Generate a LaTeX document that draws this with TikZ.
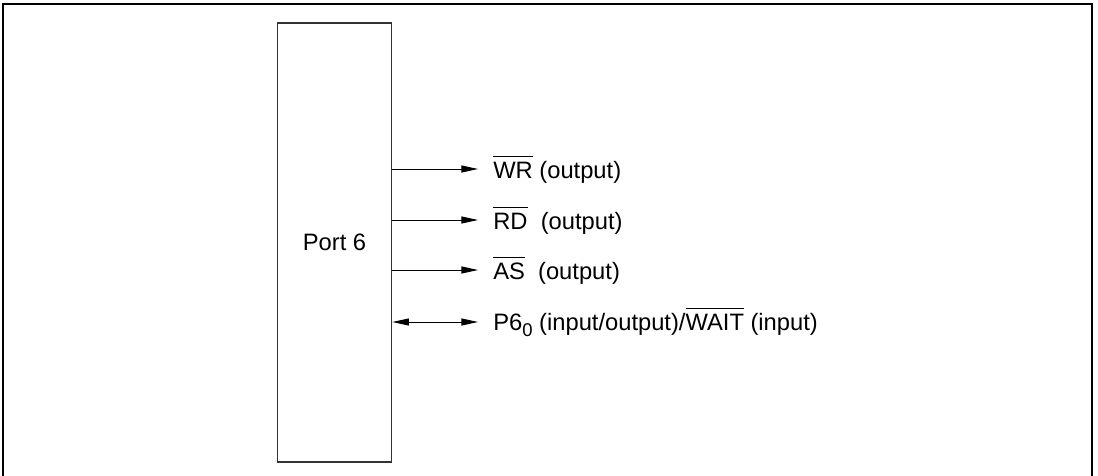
\documentclass[tikz,border=0pt]{standalone}
\usepackage{fontspec}
\setmainfont{Liberation Sans}
\usetikzlibrary{arrows.meta}
\newcommand{\ovl}[1]{$\overline{\mbox{\vphantom{\"A}#1}}$}
\newcommand{\sbs}[1]{\raisebox{-0.45ex}{\fontsize{10.5}{12}\selectfont #1}}
\tikzset{
    sig/.style={line width=0.55pt,-{Triangle[length=9.5pt,width=4pt]}},
    bisig/.style={line width=0.55pt,{Triangle[length=9.5pt,width=4pt]}-{Triangle[length=9.5pt,width=4pt]}},
    lbl/.style={anchor=west,inner sep=0pt,font=\fontsize{13.5}{16}\selectfont}
}
\begin{document}
\begin{tikzpicture}[x=0.02cm,y=0.02cm]
    \useasboundingbox (0,0) rectangle (1098,-476);
    \draw[line width=1.1pt] (3,-476) -- (3,-4) -- (1092,-4) -- (1092,-476);
    \node[draw=black!80,line width=0.9pt,minimum width=114*0.02cm,minimum height=439*0.02cm,
          font=\fontsize{13.5}{16}\selectfont] (port) at (334.5,-242.5) {Port 6};
    \node[lbl] (wr) at (493,-169) {\ovl{WR} (output)};
    \node[lbl] (rd) at (493,-220) {\ovl{RD}\ \ (output)};
    \node[lbl] (as) at (493,-270) {\ovl{AS}\ \ (output)};
    \node[lbl] (wait) at (493,-322) {P6\sbs{0} (input/output)/\ovl{WAIT} (input)};
    \draw[sig,shorten >=15*0.02cm] (port.east |- wr.west) -- (wr.west);
    \draw[sig,shorten >=15*0.02cm] (port.east |- rd.west) -- (rd.west);
    \draw[sig,shorten >=15*0.02cm] (port.east |- as.west) -- (as.west);
    \draw[bisig,shorten >=15*0.02cm] (port.east |- wait.west) -- (wait.west);
\end{tikzpicture}
\end{document}
